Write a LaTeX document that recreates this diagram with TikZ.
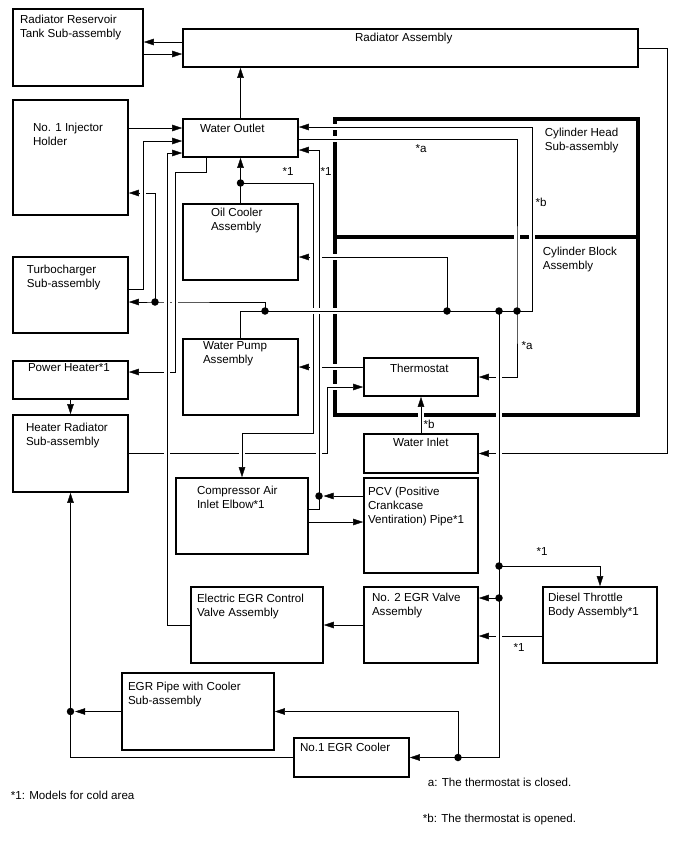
\documentclass[tikz,border=0pt]{standalone}
\usepackage{fontspec}
\setmainfont{Liberation Sans}
\usetikzlibrary{arrows.meta, positioning}
\pgfdeclarelayer{back}
\pgfdeclarelayer{lines}
\pgfsetlayers{back,lines,main}

\begin{document}
\begin{tikzpicture}[
  x=1pt, y=-1pt,
  font=\fontsize{11.6}{14}\selectfont,
  line width=1.7pt,
  box/.style={draw, rectangle, inner sep=0pt},
  tl/.style={anchor=north west, align=left, inner sep=0pt},
  tag/.style={inner sep=0pt},
  dot/.style={circle, fill, inner sep=0pt, minimum size=7.5pt},
  arr/.style={-{Triangle[length=10pt, width=6.5pt]}},
  over/.style={preaction={draw=white, line width=6.5pt, -}},
  heavy/.style={line width=3.4pt}
]
  \useasboundingbox (0,0) rectangle (688,852);

  \node[box, minimum width=130pt, minimum height=77pt, label={[tl, shift={(7,6)}]north west:Radiator Reservoir\\Tank Sub-assembly}] (tank) at (78,47.5) {};
  \node[box, minimum width=455pt, minimum height=38pt, label={[tl, shift={(172,4)}]north west:Radiator Assembly}] (rad) at (410.5,48) {};
  \node[box, minimum width=115pt, minimum height=115pt, label={[tl, shift={(20,23)}]north west:No. 1 Injector\\Holder}] (inj) at (70.5,157.5) {};
  \node[box, minimum width=115pt, minimum height=38pt, label={[tl, shift={(17,5)}]north west:Water Outlet}] (wout) at (240.5,138) {};
  \node[box, minimum width=115pt, minimum height=76pt, label={[tl, shift={(28,4)}]north west:Oil Cooler\\Assembly}] (oil) at (240.5,242) {};
  \node[box, minimum width=115pt, minimum height=76pt, label={[tl, shift={(14,8)}]north west:Turbocharger\\Sub-assembly}] (turbo) at (70.5,295) {};
  \node[box, minimum width=115pt, minimum height=38pt, label={[tl, shift={(15,3)}]north west:Power Heater*1}] (pheat) at (70.5,380) {};
  \node[box, minimum width=115pt, minimum height=76pt, label={[tl, shift={(20,3)}]north west:Water Pump\\Assembly}] (pump) at (240.5,377) {};
  \node[box, minimum width=115pt, minimum height=77pt, label={[tl, shift={(13,8)}]north west:Heater Radiator\\Sub-assembly}] (hrad) at (70.5,453.5) {};
  \node[box, minimum width=114pt, minimum height=38pt, label={[tl, shift={(26,6)}]north west:Thermostat}] (thermo) at (421,377) {};
  \node[box, minimum width=114pt, minimum height=39pt, label={[tl, shift={(29,4)}]north west:Water Inlet}] (winlet) at (421,453.5) {};
  \node[box, minimum width=132pt, minimum height=76pt, label={[tl, shift={(21,8)}]north west:Compressor Air\\Inlet Elbow*1}] (elbow) at (242,516) {};
  \node[box, minimum width=114pt, minimum height=95pt, label={[tl, shift={(4,9)}]north west:PCV (Positive\\Crankcase\\Ventiration) Pipe*1}] (pcv) at (421,525.5) {};
  \node[box, minimum width=132pt, minimum height=76pt, label={[tl, shift={(6,7)}]north west:Electric EGR Control\\Valve Assembly}] (eegr) at (257,625) {};
  \node[box, minimum width=114pt, minimum height=76pt, label={[tl, shift={(8,6)}]north west:No. 2 EGR Valve\\Assembly}] (egr2) at (421,625) {};
  \node[box, minimum width=114pt, minimum height=76pt, label={[tl, shift={(5,6)}]north west:Diesel Throttle\\Body Assembly*1}] (dtb) at (600,625) {};
  \node[box, minimum width=152pt, minimum height=77pt, label={[tl, shift={(6,9)}]north west:EGR Pipe with Cooler\\Sub-assembly}] (epipe) at (198,711.5) {};
  \node[box, minimum width=115pt, minimum height=39pt, label={[tl, shift={(6,5)}]north west:No.1 EGR Cooler}] (egr1) at (351.5,757.5) {};

  \node[tl] (headlbl) at (544,127) {Cylinder Head\\Sub-assembly};
  \node[tl] (blocklbl) at (542,246) {Cylinder Block\\Assembly};

  \node[dot] (d1) at (155,302) {};
  \node[dot] (d2) at (265,311) {};
  \node[dot] (d3) at (447,311) {};
  \node[dot] (d4) at (499,311) {};
  \node[dot] (d5) at (517,311) {};
  \node[dot] (d6) at (240.5,183) {};
  \node[dot] (d7) at (319,496) {};
  \node[dot] (d8) at (499,566) {};
  \node[dot] (d9) at (499,598) {};
  \node[dot] (d10) at (458,757.5) {};
  \node[dot] (d11) at (70.5,711.5) {};

  \node[tag] (t1) at (288,172) {*1};
  \node[tag] (t2) at (326,172) {*1};
  \node[tag] (t3) at (421,149) {*a};
  \node[tag] (t4) at (541,202) {*b};
  \node[tag] (t5) at (527,346) {*a};
  \node[tag] (t6) at (429,424) {*b};
  \node[tag] (t7) at (542,552) {*1};
  \node[tag] (t8) at (519,648) {*1};

  \node[tl] (note1) at (10,790) {*1: Models for cold area};
  \node[tl] (notea) at (427,777) {a: The thermostat is closed.};
  \node[tl] (noteb) at (422,813) {*b: The thermostat is opened.};

  \begin{pgfonlayer}{back}
    \draw[heavy] (335,119) rectangle (638,415);
    \draw[heavy] (335,237) -- (638,237);
  \end{pgfonlayer}

  \begin{pgfonlayer}{lines}
    \draw[arr] (rad.west |- 0,42) -- (tank.east |- 0,42);
    \draw[arr] (tank.east |- 0,54) -- (rad.west |- 0,54);
    \draw[arr] (wout.north) -- (rad.south -| wout.north);
    \draw[arr] (inj.east |- 0,128) -- (wout.west |- 0,128);
    \draw[arr] (d1.center) |- (inj.east |- 0,193);
    \draw[arr] (d2.center) |- (d1.center) -- (turbo.east |- d1);
    \draw[arr] (rad.east) -| (667,453.5) -- (winlet.east);
    \draw[arr] (oil.north) -- (wout.south);
    \draw[arr] (pcv.west |- d7) -- (d7);
    \draw[arr] (elbow.east |- 0,522) -- (pcv.west |- 0,522);
    \draw[arr] (d10.center) |- (epipe.east);
    \draw[arr] (epipe.west) -- (d11);
    \draw[arr] (egr1.west) -| (hrad.south);
    \draw[arr] (pheat.south) -- (hrad.north);
    \draw[arr] (d8.center) -| (dtb.north);
    \draw[arr] (d9.center) -- (egr2.east |- d9);
    \draw[arr] (dtb.west |- 0,636) -- (egr2.east |- 0,636);
    \draw[arr] (egr2.west) -- (eegr.east);

    \draw[arr, over] (hrad.east) -| (327,387) -- (thermo.west |- 0,387);
    \draw[arr, over] (thermo.west |- 0,367) -- (pump.east |- 0,367);
    \draw[arr, over] (d3.center) |- (oil.east |- 0,257);
    \draw[arr, over] (wout.east |- 0,139) -| (d5.center) |- (thermo.east);
    \draw[arr, over] (wout.south -| 206,0) |- (175,172) |- (pheat.east |- 0,372);
    \draw[arr, over] (winlet.north) -- (thermo.south);

    \draw[arr, over] (d6.center) -| (313,433) -| (elbow.north);
    \draw[arr, over] (elbow.east |- 0,509) -| (319,150) -- (wout.east |- 0,150);

    \draw[arr, over] (pump.north) |- (532,311) |- (wout.east |- 0,127);
    \draw[arr, over] (turbo.east |- 0,289) -| (143,141) -- (wout.west |- 0,141);
    \draw[arr, over] (eegr.west) -| (167,153) -- (wout.west |- 0,153);
    \draw[arr, over] (d4.center) |- (egr1.east);
  \end{pgfonlayer}
\end{tikzpicture}
\end{document}
